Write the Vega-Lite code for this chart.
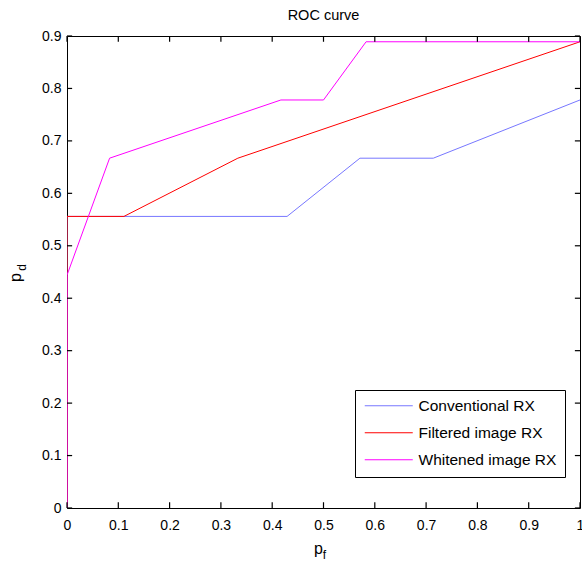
{
  "$schema": "https://vega.github.io/schema/vega-lite/v6.json",
  "autosize": "none",
  "width": 513,
  "height": 472,
  "padding": {"left": 67, "top": 36, "right": 2, "bottom": 53},
  "background": "white",
  "title": {"text": "ROC curve", "fontSize": 14.5, "fontWeight": "normal", "font": "Liberation Sans", "color": "#000000", "offset": 6, "anchor": "middle"},
  "config": {
    "view": {"stroke": "#000000", "strokeWidth": 1},
    "axis": {"domain": false, "ticks": false, "labelColor": "#000000", "labelFont": "Liberation Sans", "labelFontSize": 14, "titleFont": "Liberation Sans", "titleColor": "#000000", "titleFontWeight": "normal", "grid": false}
  },
  "datasets": {
    "roc": [
      {"series": "Conventional RX", "o": 1, "x": 0, "y": 0},
      {"series": "Conventional RX", "o": 2, "x": 0, "y": 0.556},
      {"series": "Conventional RX", "o": 3, "x": 0.429, "y": 0.556},
      {"series": "Conventional RX", "o": 4, "x": 0.571, "y": 0.667},
      {"series": "Conventional RX", "o": 5, "x": 0.714, "y": 0.667},
      {"series": "Conventional RX", "o": 6, "x": 1, "y": 0.778},
      {"series": "Filtered image RX", "o": 1, "x": 0, "y": 0},
      {"series": "Filtered image RX", "o": 2, "x": 0, "y": 0.556},
      {"series": "Filtered image RX", "o": 3, "x": 0.111, "y": 0.556},
      {"series": "Filtered image RX", "o": 4, "x": 0.333, "y": 0.667},
      {"series": "Filtered image RX", "o": 5, "x": 1, "y": 0.889},
      {"series": "Whitened image RX", "o": 1, "x": 0, "y": 0},
      {"series": "Whitened image RX", "o": 2, "x": 0, "y": 0.444},
      {"series": "Whitened image RX", "o": 3, "x": 0.083, "y": 0.667},
      {"series": "Whitened image RX", "o": 4, "x": 0.417, "y": 0.778},
      {"series": "Whitened image RX", "o": 5, "x": 0.5, "y": 0.778},
      {"series": "Whitened image RX", "o": 6, "x": 0.583, "y": 0.889},
      {"series": "Whitened image RX", "o": 7, "x": 1, "y": 0.889}
    ],
    "xticks": [{"v": 0}, {"v": 0.1}, {"v": 0.2}, {"v": 0.3}, {"v": 0.4}, {"v": 0.5}, {"v": 0.6}, {"v": 0.7}, {"v": 0.8}, {"v": 0.9}, {"v": 1}],
    "yticks": [{"v": 0}, {"v": 0.1}, {"v": 0.2}, {"v": 0.3}, {"v": 0.4}, {"v": 0.5}, {"v": 0.6}, {"v": 0.7}, {"v": 0.8}, {"v": 0.9}]
  },
  "resolve": {"axis": {"x": "independent", "y": "independent"}},
  "layer": [
    {
      "data": {"name": "roc"},
      "mark": {"type": "line", "strokeWidth": 1, "clip": true},
      "encoding": {
        "x": {"field": "x", "type": "quantitative", "scale": {"domain": [0, 1], "nice": false},
              "axis": {"orient": "bottom", "values": [0, 0.1, 0.2, 0.3, 0.4, 0.5, 0.6, 0.7, 0.8, 0.9, 1], "format": "~g", "labelPadding": 10, "labelBaseline": "top", "labelFlush": false, "labelOverlap": false,
                       "title": "p", "titleFontSize": 16, "titleX": 251, "titleY": 45, "titleAlign": "center", "titleBaseline": "alphabetic", "titleAngle": 0}},
        "y": {"field": "y", "type": "quantitative", "scale": {"domain": [0, 0.9], "nice": false},
              "axis": {"orient": "left", "values": [0, 0.1, 0.2, 0.3, 0.4, 0.5, 0.6, 0.7, 0.8, 0.9], "format": "~g", "labelPadding": 6, "labelFlush": false, "labelOverlap": false,
                       "title": "p", "titleFontSize": 16, "titleX": -47, "titleY": 241, "titleAlign": "center", "titleBaseline": "alphabetic", "titleAngle": 270}},
        "color": {"field": "series", "type": "nominal",
                  "scale": {"domain": ["Conventional RX", "Filtered image RX", "Whitened image RX"], "range": ["#7777ff", "#ff0000", "#ff00ff"]},
                  "legend": {"title": null, "orient": "none", "legendX": 288, "legendY": 354, "symbolType": "M-4,0H4", "symbolSize": 144, "symbolStrokeWidth": 1, "symbolOffset": 18,
                             "labelFont": "Liberation Sans", "labelFontSize": 15.5, "labelColor": "#000000", "labelOffset": 22, "labelLimit": 300, "rowPadding": 10,
                             "strokeColor": "#000000", "fillColor": "#ffffff", "padding": 8}},
        "order": {"field": "o", "type": "quantitative"}
      }
    },
    {
      "data": {"name": "roc"},
      "mark": {"type": "point", "opacity": 0},
      "encoding": {
        "x": {"field": "x", "type": "quantitative",
              "axis": {"orient": "top", "values": [0, 1], "labels": false,
                       "title": "f", "titleFontSize": 12, "titleX": 257, "titleY": 522, "titleAlign": "center", "titleBaseline": "alphabetic", "titleAngle": 0}},
        "y": {"field": "y", "type": "quantitative",
              "axis": {"orient": "right", "values": [0, 0.9], "labels": false,
                       "title": "d", "titleFontSize": 12, "titleX": -555, "titleY": 231, "titleAlign": "center", "titleBaseline": "alphabetic", "titleAngle": 270}}
      }
    },
    {
      "data": {"name": "xticks"},
      "mark": {"type": "rule", "color": "#000000", "strokeWidth": 1.2, "opacity": 1},
      "encoding": {
        "x": {"field": "v", "type": "quantitative", "axis": null},
        "y": {"datum": 0, "type": "quantitative", "axis": null},
        "y2": {"datum": 0.011}
      }
    },
    {
      "data": {"name": "xticks"},
      "mark": {"type": "rule", "color": "#000000", "strokeWidth": 1.2, "opacity": 1},
      "encoding": {
        "x": {"field": "v", "type": "quantitative", "axis": null},
        "y": {"datum": 0.9, "type": "quantitative", "axis": null},
        "y2": {"datum": 0.889}
      }
    },
    {
      "data": {"name": "yticks"},
      "mark": {"type": "rule", "color": "#000000", "strokeWidth": 1.2, "opacity": 1},
      "encoding": {
        "y": {"field": "v", "type": "quantitative", "axis": null},
        "x": {"datum": 0, "type": "quantitative", "axis": null},
        "x2": {"datum": 0.01}
      }
    },
    {
      "data": {"name": "yticks"},
      "mark": {"type": "rule", "color": "#000000", "strokeWidth": 1.2, "opacity": 1},
      "encoding": {
        "y": {"field": "v", "type": "quantitative", "axis": null},
        "x": {"datum": 1, "type": "quantitative", "axis": null},
        "x2": {"datum": 0.99}
      }
    }
  ]
}
